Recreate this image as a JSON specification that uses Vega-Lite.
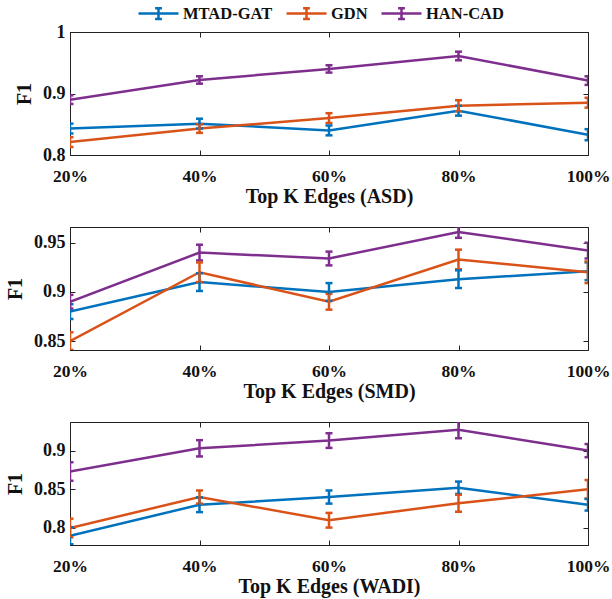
{
  "$schema": "https://vega.github.io/schema/vega-lite/v6.json",
  "background": "white",
  "padding": {"left": 5, "top": 2, "right": 5, "bottom": 2},
  "datasets": {
    "asd": [
      {"k": 20, "method": "MTAD-GAT", "f1": 0.843, "err": 0.008},
      {"k": 40, "method": "MTAD-GAT", "f1": 0.851, "err": 0.008},
      {"k": 60, "method": "MTAD-GAT", "f1": 0.840, "err": 0.008},
      {"k": 80, "method": "MTAD-GAT", "f1": 0.872, "err": 0.008},
      {"k": 100, "method": "MTAD-GAT", "f1": 0.833, "err": 0.009},
      {"k": 20, "method": "GDN", "f1": 0.821, "err": 0.008},
      {"k": 40, "method": "GDN", "f1": 0.843, "err": 0.007},
      {"k": 60, "method": "GDN", "f1": 0.860, "err": 0.008},
      {"k": 80, "method": "GDN", "f1": 0.880, "err": 0.009},
      {"k": 100, "method": "GDN", "f1": 0.885, "err": 0.008},
      {"k": 20, "method": "HAN-CAD", "f1": 0.890, "err": 0.007},
      {"k": 40, "method": "HAN-CAD", "f1": 0.922, "err": 0.006},
      {"k": 60, "method": "HAN-CAD", "f1": 0.940, "err": 0.006},
      {"k": 80, "method": "HAN-CAD", "f1": 0.961, "err": 0.007},
      {"k": 100, "method": "HAN-CAD", "f1": 0.921, "err": 0.007}
    ],
    "smd": [
      {"k": 20, "method": "MTAD-GAT", "f1": 0.880, "err": 0.0075},
      {"k": 40, "method": "MTAD-GAT", "f1": 0.910, "err": 0.009},
      {"k": 60, "method": "MTAD-GAT", "f1": 0.900, "err": 0.009},
      {"k": 80, "method": "MTAD-GAT", "f1": 0.913, "err": 0.009},
      {"k": 100, "method": "MTAD-GAT", "f1": 0.921, "err": 0.009},
      {"k": 20, "method": "GDN", "f1": 0.850, "err": 0.009},
      {"k": 40, "method": "GDN", "f1": 0.920, "err": 0.010},
      {"k": 60, "method": "GDN", "f1": 0.890, "err": 0.008},
      {"k": 80, "method": "GDN", "f1": 0.933, "err": 0.010},
      {"k": 100, "method": "GDN", "f1": 0.920, "err": 0.011},
      {"k": 20, "method": "HAN-CAD", "f1": 0.890, "err": 0.007},
      {"k": 40, "method": "HAN-CAD", "f1": 0.940, "err": 0.008},
      {"k": 60, "method": "HAN-CAD", "f1": 0.934, "err": 0.007},
      {"k": 80, "method": "HAN-CAD", "f1": 0.961, "err": 0.006},
      {"k": 100, "method": "HAN-CAD", "f1": 0.942, "err": 0.008}
    ],
    "wadi": [
      {"k": 20, "method": "MTAD-GAT", "f1": 0.790, "err": 0.011},
      {"k": 40, "method": "MTAD-GAT", "f1": 0.830, "err": 0.0095},
      {"k": 60, "method": "MTAD-GAT", "f1": 0.840, "err": 0.0085},
      {"k": 80, "method": "MTAD-GAT", "f1": 0.852, "err": 0.008},
      {"k": 100, "method": "MTAD-GAT", "f1": 0.830, "err": 0.0075},
      {"k": 20, "method": "GDN", "f1": 0.800, "err": 0.012},
      {"k": 40, "method": "GDN", "f1": 0.840, "err": 0.0085},
      {"k": 60, "method": "GDN", "f1": 0.810, "err": 0.0095},
      {"k": 80, "method": "GDN", "f1": 0.832, "err": 0.011},
      {"k": 100, "method": "GDN", "f1": 0.850, "err": 0.012},
      {"k": 20, "method": "HAN-CAD", "f1": 0.873, "err": 0.012},
      {"k": 40, "method": "HAN-CAD", "f1": 0.903, "err": 0.0105},
      {"k": 60, "method": "HAN-CAD", "f1": 0.913, "err": 0.0095},
      {"k": 80, "method": "HAN-CAD", "f1": 0.927, "err": 0.011},
      {"k": 100, "method": "HAN-CAD", "f1": 0.900, "err": 0.0085}
    ]
  },
  "bounds": "flush",
  "spacing": 72,
  "vconcat": [
    {
      "width": 518, "height": 123,
      "data": {"name": "asd"},
      "resolve": {"axis": {"x": "independent", "y": "independent"}},
      "layer": [
        {
          "mark": {"type": "line", "strokeWidth": 2.5, "clip": true},
          "encoding": {
            "x": {"field": "k", "type": "quantitative", "scale": {"domain": [20, 100], "nice": false, "zero": false},
                  "axis": {"values": [20, 40, 60, 80, 100], "labelExpr": "datum.value + '%'", "title": "Top K Edges (ASD)"}},
            "y": {"field": "f1", "type": "quantitative", "scale": {"domain": [0.8, 1.0], "nice": false, "zero": false},
                  "axis": {"values": [0.8, 0.9, 1.0], "format": "~g", "title": "F1"}},
            "color": {"field": "method", "type": "nominal", "scale": {"domain": ["MTAD-GAT", "GDN", "HAN-CAD"], "range": ["#0072BD", "#D95319", "#7E2F8E"]}}
          }
        },
        {
          "mark": {"type": "errorbar", "ticks": true, "size": 7, "thickness": 2.5, "clip": true},
          "encoding": {
            "x": {"field": "k", "type": "quantitative", "axis": null},
            "y": {"field": "f1", "type": "quantitative", "axis": null},
            "yError": {"field": "err"},
            "color": {"field": "method", "type": "nominal"}
          }
        },
        {
          "mark": {"type": "line", "opacity": 0},
          "encoding": {
            "x": {"field": "k", "type": "quantitative", "axis": {"orient": "top", "values": [20, 40, 60, 80, 100], "labels": false, "title": null}},
            "y": {"field": "f1", "type": "quantitative", "axis": {"orient": "right", "values": [0.8, 0.9, 1.0], "labels": false, "title": null}}
          }
        }
      ]
    },
    {
      "width": 518, "height": 123,
      "data": {"name": "smd"},
      "resolve": {"axis": {"x": "independent", "y": "independent"}},
      "layer": [
        {
          "mark": {"type": "line", "strokeWidth": 2.5, "clip": true},
          "encoding": {
            "x": {"field": "k", "type": "quantitative", "scale": {"domain": [20, 100], "nice": false, "zero": false},
                  "axis": {"values": [20, 40, 60, 80, 100], "labelExpr": "datum.value + '%'", "title": "Top K Edges (SMD)"}},
            "y": {"field": "f1", "type": "quantitative", "scale": {"domain": [0.841, 0.966], "nice": false, "zero": false},
                  "axis": {"values": [0.85, 0.9, 0.95], "format": "~g", "title": "F1"}},
            "color": {"field": "method", "type": "nominal"}
          }
        },
        {
          "mark": {"type": "errorbar", "ticks": true, "size": 7, "thickness": 2.5, "clip": true},
          "encoding": {
            "x": {"field": "k", "type": "quantitative", "axis": null},
            "y": {"field": "f1", "type": "quantitative", "axis": null},
            "yError": {"field": "err"},
            "color": {"field": "method", "type": "nominal"}
          }
        },
        {
          "mark": {"type": "line", "opacity": 0},
          "encoding": {
            "x": {"field": "k", "type": "quantitative", "axis": {"orient": "top", "values": [20, 40, 60, 80, 100], "labels": false, "title": null}},
            "y": {"field": "f1", "type": "quantitative", "axis": {"orient": "right", "values": [0.85, 0.9, 0.95], "labels": false, "title": null}}
          }
        }
      ]
    },
    {
      "width": 518, "height": 123,
      "data": {"name": "wadi"},
      "resolve": {"axis": {"x": "independent", "y": "independent"}},
      "layer": [
        {
          "mark": {"type": "line", "strokeWidth": 2.5, "clip": true},
          "encoding": {
            "x": {"field": "k", "type": "quantitative", "scale": {"domain": [20, 100], "nice": false, "zero": false},
                  "axis": {"values": [20, 40, 60, 80, 100], "labelExpr": "datum.value + '%'", "title": "Top K Edges (WADI)"}},
            "y": {"field": "f1", "type": "quantitative", "scale": {"domain": [0.778, 0.937], "nice": false, "zero": false},
                  "axis": {"values": [0.8, 0.85, 0.9], "format": "~g", "title": "F1"}},
            "color": {"field": "method", "type": "nominal"}
          }
        },
        {
          "mark": {"type": "errorbar", "ticks": true, "size": 7, "thickness": 2.5, "clip": true},
          "encoding": {
            "x": {"field": "k", "type": "quantitative", "axis": null},
            "y": {"field": "f1", "type": "quantitative", "axis": null},
            "yError": {"field": "err"},
            "color": {"field": "method", "type": "nominal"}
          }
        },
        {
          "mark": {"type": "line", "opacity": 0},
          "encoding": {
            "x": {"field": "k", "type": "quantitative", "axis": {"orient": "top", "values": [20, 40, 60, 80, 100], "labels": false, "title": null}},
            "y": {"field": "f1", "type": "quantitative", "axis": {"orient": "right", "values": [0.8, 0.85, 0.9], "labels": false, "title": null}}
          }
        }
      ]
    }
  ],
  "resolve": {"scale": {"color": "shared"}},
  "config": {
    "font": "Liberation Serif",
    "view": {"stroke": "#222", "strokeWidth": 1},
    "tick": {"opacity": 1},
    "rule": {"opacity": 1},
    "axis": {
      "grid": false,
      "domainColor": "#222",
      "tickColor": "#222",
      "tickSize": -5,
      "labelPadding": 10,
      "labelFlush": false,
      "labelFont": "Liberation Serif",
      "labelFontWeight": "bold",
      "labelFontSize": 18,
      "labelColor": "#111",
      "titleFont": "Liberation Serif",
      "titleFontWeight": "bold",
      "titleFontSize": 20,
      "titleColor": "#111"
    },
    "axisY": {"titlePadding": 8},
    "axisX": {"titlePadding": 2, "labelPadding": 17, "labelFontSize": 17.5},
    "legend": {
      "orient": "none",
      "legendX": 67,
      "legendY": -30,
      "direction": "horizontal",
      "title": null,
      "labelFont": "Liberation Serif",
      "labelFontWeight": "bold",
      "labelFontSize": 16.5,
      "labelColor": "#111",
      "symbolType": "M-1,0H3M1,-0.54V0.54M0.66,-0.54H1.34M0.66,0.54H1.34",
      "symbolSize": 400,
      "symbolStrokeWidth": 2.5,
      "symbolFillColor": "transparent",
      "labelOffset": 23,
      "columnPadding": 8
    }
  }
}
